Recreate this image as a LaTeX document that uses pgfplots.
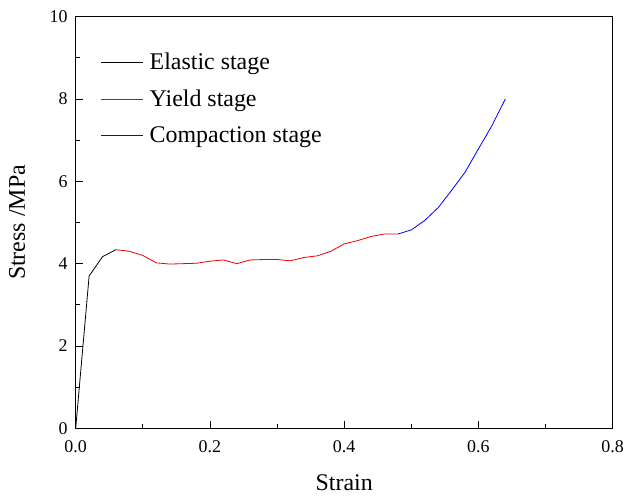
\documentclass[border=0pt]{standalone}
\usepackage{fontspec}
\setmainfont{Liberation Serif}
\usepackage{pgfplots}
\pgfplotsset{compat=1.18}

\begin{document}
\begin{tikzpicture}
\begin{axis}[
  name=ax,
  scale only axis,
  width=537bp, height=411.6bp,
  xmin=0, xmax=0.8, ymin=0, ymax=10,
  xtick={0,0.2,...,0.8}, ytick={0,2,...,10},
  minor x tick num=1, minor y tick num=1,
  xtick pos=bottom, ytick pos=left,
  tick align=inside,
  major tick length=7bp, minor tick length=4bp,
  every tick/.style={black, line width=0.8bp},
  axis line style={line width=1bp},
  /pgf/number format/assume math mode=true,
  x tick label style={/pgf/number format/fixed, /pgf/number format/fixed zerofill, /pgf/number format/precision=1},
  tick label style={font=\fontsize{18}{20}\selectfont},
  xticklabel style={anchor=base, yshift=-24bp},
  yticklabel style={anchor=east, inner sep=0pt, xshift=-8bp},
  xlabel={Strain},
  ylabel={Stress /MPa},
  every axis x label/.style={at={([yshift=-61.7bp]axis description cs:0.5,0)}, anchor=base, font=\fontsize{24}{28}\selectfont},
  every axis y label/.style={at={([xshift=-50.7bp]axis description cs:0,0.5)}, anchor=base, rotate=90, font=\fontsize{24}{28}\selectfont},
  legend style={at={(axis description cs:0,1)}, anchor=north west, xshift=25bp, yshift=-36bp,
    draw=none, fill=none, inner sep=0pt, row sep=19bp,
    font=\fontsize{24}{28}\selectfont,
    nodes={inner sep=0pt, anchor=west}},
  legend cell align=left,
  legend image code/.code={\draw[#1] (0bp,0bp) -- (42bp,0bp); \path (48bp,0bp);},
]
\addplot[black, line width=0.8bp] coordinates {
  (0,0) (0.02,3.70) (0.04,4.17) (0.06,4.34)
};
\addlegendentry{Elastic stage}
\addplot[red!92!black, line width=0.8bp] coordinates {
  (0.06,4.34) (0.08,4.30) (0.10,4.20) (0.12,4.02) (0.14,3.99) (0.16,4.00)
  (0.18,4.01) (0.20,4.06) (0.22,4.09) (0.24,4.00) (0.26,4.09) (0.28,4.10)
  (0.30,4.10) (0.32,4.07) (0.34,4.15) (0.36,4.19) (0.38,4.30) (0.40,4.48)
  (0.42,4.56) (0.44,4.66) (0.46,4.72) (0.48,4.72)
};
\addlegendentry{Yield stage}
\addplot[blue, line width=0.8bp] coordinates {
  (0.48,4.72) (0.50,4.82) (0.52,5.05) (0.54,5.36) (0.56,5.78) (0.58,6.22)
  (0.60,6.79) (0.62,7.35) (0.64,8.00)
};
\addlegendentry{Compaction stage}
\end{axis}
\pgfresetboundingbox
\path[use as bounding box] ([xshift=-75.7bp,yshift=-68.7bp]ax.south west) rectangle ([xshift=12.3bp,yshift=16.7bp]ax.north east);
\end{tikzpicture}
\end{document}
